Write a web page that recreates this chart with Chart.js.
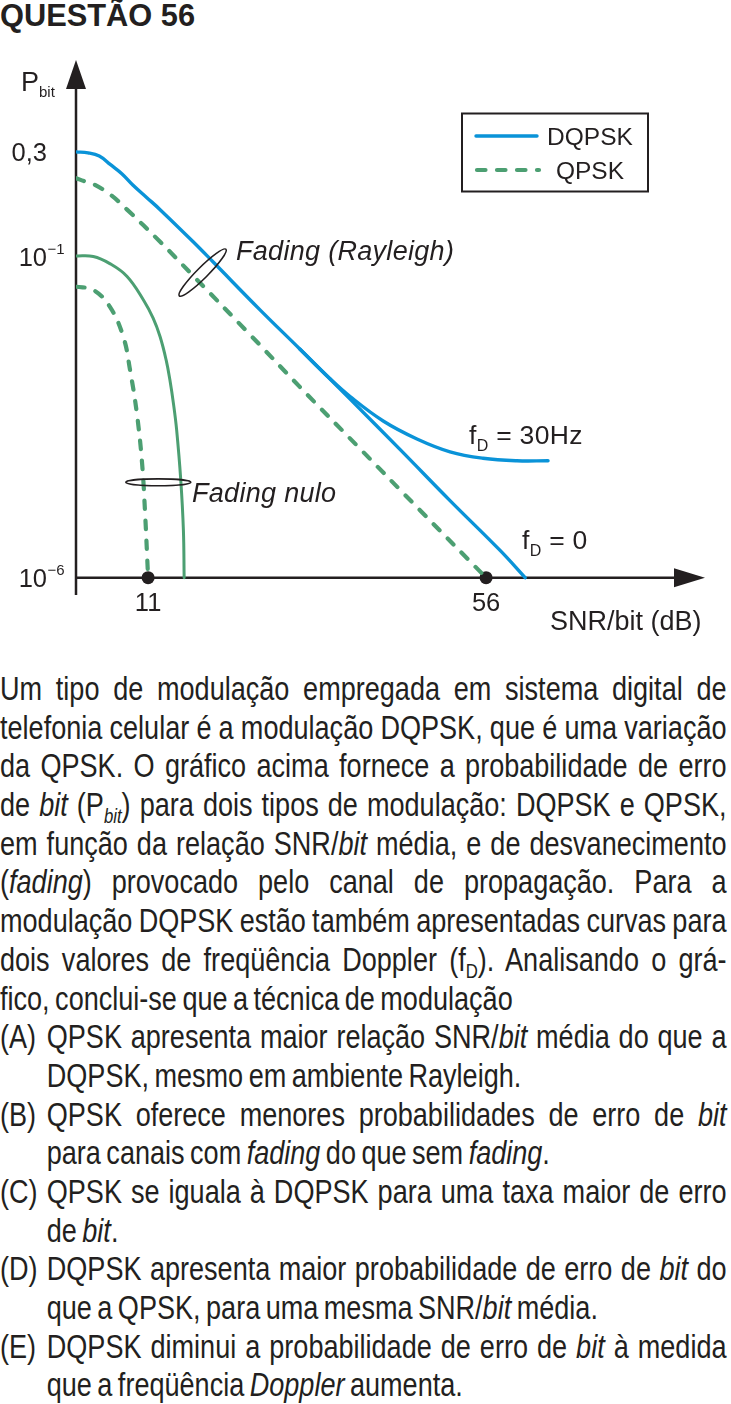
<!DOCTYPE html>
<html>
<head>
<meta charset="utf-8">
<script src="https://cdn.jsdelivr.net/npm/chart.js@4.4.1/dist/chart.umd.min.js"></script>
<style>
html,body{margin:0;padding:0;background:#fff;}
body{width:731px;height:1404px;position:relative;overflow:hidden;font-family:"Liberation Sans",Arial,Helvetica,sans-serif;color:#231f20;}
#title{position:absolute;left:0;top:-1px;font-weight:bold;font-size:30.8px;line-height:34px;white-space:nowrap;}
#c{position:absolute;left:0;top:0;}
#txt{position:absolute;left:0;top:670px;width:886px;transform:scaleX(0.82);transform-origin:0 0;font-size:33px;}
.l{height:38.7px;line-height:38.7px;white-space:nowrap;position:relative;word-spacing:-2.5px;}
.j{text-align:justify;text-align-last:justify;}
.o{padding-left:57px;}
.lab{position:absolute;left:0;top:0;word-spacing:0;}
.sb{font-size:0.62em;vertical-align:-0.32em;line-height:0;}
</style>
</head>
<body>
<div id="title">QUESTÃO 56</div>
<canvas id="c" width="731" height="660"></canvas>
<div id="txt">
<div class="l j">Um tipo de modulação empregada em sistema digital de</div>
<div class="l j">telefonia celular é a modulação DQPSK, que é uma variação</div>
<div class="l j">da QPSK. O gráfico acima fornece a probabilidade de erro</div>
<div class="l j">de <i>bit</i> (P<span class="sb"><i>bit</i></span>) para dois tipos de modulação: DQPSK e QPSK,</div>
<div class="l j">em função da relação SNR/<i>bit</i> média, e de desvanecimento</div>
<div class="l j">(<i>fading</i>) provocado pelo canal de propagação. Para a</div>
<div class="l j">modulação DQPSK estão também apresentadas curvas para</div>
<div class="l j">dois valores de freqüência Doppler (f<span class="sb">D</span>). Analisando o grá-</div>
<div class="l">fico, conclui-se que a técnica de modulação</div>
<div class="l j o"><span class="lab">(A)</span>QPSK apresenta maior relação SNR/<i>bit</i> média do que a</div>
<div class="l o">DQPSK, mesmo em ambiente Rayleigh.</div>
<div class="l j o"><span class="lab">(B)</span>QPSK oferece menores probabilidades de erro de <i>bit</i></div>
<div class="l o">para canais com <i>fading</i> do que sem <i>fading</i>.</div>
<div class="l j o"><span class="lab">(C)</span>QPSK se iguala à DQPSK para uma taxa maior de erro</div>
<div class="l o">de <i>bit</i>.</div>
<div class="l j o"><span class="lab">(D)</span>DQPSK apresenta maior probabilidade de erro de <i>bit</i> do</div>
<div class="l o">que a QPSK, para uma mesma SNR/<i>bit</i> média.</div>
<div class="l j o"><span class="lab">(E)</span>DQPSK diminui a probabilidade de erro de <i>bit</i> à medida</div>
<div class="l o">que a freqüência <i>Doppler</i> aumenta.</div>
</div>
<script>
// ---- Data (x: SNR/bit in dB, y: schematic decade position of P_bit, 10^-6 -> -6, 10^-1 -> -1) ----
const snrDqpskFd0 = [1.4, 3.0, 4.5, 6.0, 7.5, 9.0, 10.8, 12.6, 17.0, 19.7, 25.9, 31.2, 37.9, 44.6, 51.2, 57.9, 61.2];
const pDqpskFd0   = [0.63, 0.615, 0.565, 0.43, 0.29, 0.11, -0.08, -0.27, -0.77, -1.09, -1.83, -2.44, -3.22, -4.01, -4.80, -5.58, -6.0];

const snrDqpskFd30 = [31.2, 35.2, 37.9, 42.3, 46.8, 51.2, 55.6, 60.1, 64.25];
const pDqpskFd30   = [-2.44, -2.90, -3.18, -3.56, -3.84, -4.04, -4.14, -4.18, -4.18];

const snrQpskRayleigh = [1.4, 2.6, 3.7, 5.9, 8.2, 12.6, 17.0, 24.6, 31.2, 39.2, 47.2, 56.0];
const pQpskRayleigh   = [0.22, 0.17, 0.13, -0.03, -0.27, -0.77, -1.30, -2.22, -3.03, -3.99, -4.95, -6.0];

const snrNoFadingSolid = [1.4, 3.7, 5.9, 8.2, 10.4, 11.67, 12.6, 13.4, 13.9, 14.4, 14.8, 15.35, 15.7, 15.8];
const pNoFadingSolid   = [-0.99, -1.00, -1.11, -1.31, -1.68, -1.96, -2.25, -2.61, -2.92, -3.31, -3.70, -4.48, -5.26, -6.0];

const snrNoFadingDashed = [1.4, 3.7, 5.9, 7.7, 8.6, 9.5, 10.2, 10.6, 11.0];
const pNoFadingDashed   = [-1.47, -1.52, -1.78, -2.25, -2.77, -3.44, -4.22, -5.00, -6.0];

const markerSnr = [11, 56];
const markerP   = [-6, -6];

const xTickValues = [11, 56];
const xTickLabels = ['11', '56'];
const yTickValues = [-6, -1, 0.63];
const yTickBases  = ['10', '10', '0,3'];
const yTickExps   = ['\u22126', '\u22121', ''];

const legendLabels = ['DQPSK', 'QPSK'];

const pts = (xs, ys) => xs.map((x, i) => ({x: x, y: ys[i]}));

const BLUE = '#0a93d8';
const GREEN = '#4c9f72';
const INK = '#231f20';
const FONT = '"Liberation Sans", Arial, Helvetica, sans-serif';

function subText(ctx, x, y, parts) {
  let cx = x;
  for (const p of parts) {
    ctx.font = (p[3] ? 'italic ' : '') + p[1] + 'px ' + FONT;
    ctx.fillText(p[0], cx, y + p[2]);
    cx += ctx.measureText(p[0]).width;
  }
}

const decor = {
  id: 'decor',
  beforeDatasetsDraw(chart) {
    const ctx = chart.ctx, ys = chart.scales.y;
    const a = chart.chartArea;
    const x0 = a.left, yAxis = ys.getPixelForValue(-6);
    ctx.save();
    ctx.strokeStyle = INK; ctx.fillStyle = INK; ctx.lineWidth = 2.5;
    ctx.beginPath(); ctx.moveTo(x0, a.bottom); ctx.lineTo(x0, a.top + 28); ctx.stroke();
    ctx.beginPath(); ctx.moveTo(x0 - 10, a.top + 29); ctx.lineTo(x0, a.top); ctx.lineTo(x0 + 10, a.top + 29); ctx.closePath(); ctx.fill();
    ctx.beginPath(); ctx.moveTo(x0, yAxis); ctx.lineTo(a.right - 30, yAxis); ctx.stroke();
    ctx.beginPath(); ctx.moveTo(a.right - 31, yAxis - 9.5); ctx.lineTo(a.right, yAxis); ctx.lineTo(a.right - 31, yAxis + 9.5); ctx.closePath(); ctx.fill();
    ctx.restore();
  },
  afterDatasetsDraw(chart) {
    const ctx = chart.ctx, xs = chart.scales.x, ys = chart.scales.y;
    ctx.save();
    ctx.fillStyle = INK; ctx.strokeStyle = INK;
    ctx.textBaseline = 'alphabetic';
    ctx.font = '25.5px ' + FONT; ctx.textAlign = 'center';
    xTickValues.forEach((v, i) => ctx.fillText(xTickLabels[i], xs.getPixelForValue(v), ys.getPixelForValue(-6) + 33));
    yTickValues.forEach((v, i) => {
      const py = ys.getPixelForValue(v);
      ctx.font = '25.5px ' + FONT; ctx.textAlign = 'right';
      ctx.fillText(yTickBases[i], 47, py + 9);
      if (yTickExps[i]) {
        ctx.font = '15px ' + FONT; ctx.textAlign = 'left';
        ctx.fillText(yTickExps[i], 47.5, py - 3);
      }
    });
    ctx.textAlign = 'left';
    subText(ctx, 21, 90.5, [['P', 27, 0, false], ['bit', 15, 6, false]]);
    ctx.font = '27px ' + FONT; ctx.fillText('SNR/bit (dB)', 550, 630);
    ctx.letterSpacing = '0.3px';
    subText(ctx, 469, 444, [['f', 26.5, 0, false], ['D', 16, 7, false], [' = 30Hz', 26.5, 0, false]]);
    subText(ctx, 522, 549, [['f', 26.5, 0, false], ['D', 16, 7, false], [' = 0', 26.5, 0, false]]);
    ctx.font = 'italic 27px ' + FONT;
    ctx.fillText('Fading (Rayleigh)', 236, 260);
    ctx.fillText('Fading nulo', 192, 501.5);
    ctx.letterSpacing = '0px';
    ctx.lineWidth = 1.6;
    ctx.beginPath();
    ctx.ellipse(xs.getPixelForValue(18.26), ys.getPixelForValue(-1.25), 33, 5.5, -Math.PI / 4, 0, Math.PI * 2);
    ctx.stroke();
    ctx.beginPath();
    ctx.ellipse(xs.getPixelForValue(12.36), ys.getPixelForValue(-4.515), 32.5, 3.4, 0, 0, Math.PI * 2);
    ctx.stroke();
    ctx.lineWidth = 2;
    ctx.strokeRect(462, 113.5, 186, 78);
    const d0 = chart.data.datasets[0], d2 = chart.data.datasets[2];
    ctx.lineCap = 'round';
    ctx.strokeStyle = d0.borderColor; ctx.lineWidth = d0.borderWidth;
    ctx.beginPath(); ctx.moveTo(476, 136); ctx.lineTo(537, 136); ctx.stroke();
    ctx.strokeStyle = d2.borderColor; ctx.lineWidth = d2.borderWidth; ctx.setLineDash(d2.borderDash);
    ctx.beginPath(); ctx.moveTo(477, 170); ctx.lineTo(539, 170); ctx.stroke();
    ctx.setLineDash([]);
    ctx.fillStyle = INK; ctx.font = '24.5px ' + FONT; ctx.textAlign = 'center';
    ctx.fillText(legendLabels[0], 590, 145.3);
    ctx.fillText(legendLabels[1], 590, 179);
    ctx.restore();
  }
};

const common = {pointRadius: 0, fill: false, tension: 0.4, borderCapStyle: 'round', borderJoinStyle: 'round'};

new Chart(document.getElementById('c'), {
  type: 'line',
  data: {
    datasets: [
      Object.assign({label: 'DQPSK (fD = 0)', data: pts(snrDqpskFd0, pDqpskFd0), borderColor: BLUE, borderWidth: 3.4}, common),
      Object.assign({label: 'DQPSK (fD = 30Hz)', data: pts(snrDqpskFd30, pDqpskFd30), borderColor: BLUE, borderWidth: 3.4}, common),
      Object.assign({label: 'QPSK (Rayleigh)', data: pts(snrQpskRayleigh, pQpskRayleigh), borderColor: GREEN, borderWidth: 4.2, borderDash: [8.5, 11.5]}, common),
      Object.assign({label: 'Fading nulo (solid)', data: pts(snrNoFadingSolid, pNoFadingSolid), borderColor: GREEN, borderWidth: 3}, common),
      Object.assign({label: 'Fading nulo (dashed)', data: pts(snrNoFadingDashed, pNoFadingDashed), borderColor: GREEN, borderWidth: 4.2, borderDash: [8.5, 11.5]}, common),
      {label: 'marks', type: 'scatter', data: pts(markerSnr, markerP), pointRadius: 6.5, pointBackgroundColor: INK, pointBorderColor: INK, pointBorderWidth: 0, showLine: false}
    ]
  },
  options: {
    responsive: false,
    animation: false,
    devicePixelRatio: 1,
    layout: {padding: {left: 76, right: 26, top: 60, bottom: 65}},
    scales: {
      x: {type: 'linear', min: 1.4, max: 85.15, display: false},
      y: {type: 'linear', min: -6.27, max: 2.06, display: false}
    },
    plugins: {legend: {display: false}, tooltip: {enabled: false}}
  },
  plugins: [decor]
});
</script>
</body>
</html>
